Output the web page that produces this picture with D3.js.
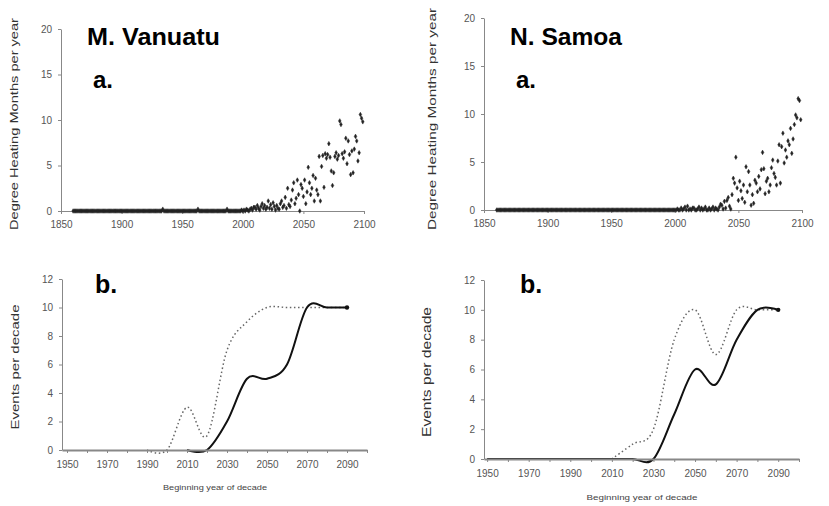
<!DOCTYPE html>
<html>
<head>
<meta charset="utf-8">
<script src="https://cdn.jsdelivr.net/npm/d3@7"></script>
<style>
  body { margin: 0; background: #fff; }
  svg { font-family: "Liberation Sans", Arial, sans-serif; }
  .tick text { fill: #555; font-size: 10px; }
  .tick line, .domain { stroke: #888; }
</style>
</head>
<body>
<div id="app"></div>
<script>
`use strict`;

// --- data ---
const dhmYears = d3.range(1860, 2100);

const vanDHM = [
  0,0,0,0,0,0,0,0,0,0,
  0,0,0,0,0,0,0,0,0,0,
  0,0,0,0,0,0,0,0,0,0,
  0,0,0,0,0,0,0,0,0,0,
  0,0,0,0,0,0,0,0,0,0,
  0,0,0,0,0,0,0,0,0,0,
  0,0,0,0,0,0,0,0,0,0,
  0,0,0,0,0.2,0,0,0,0,0,
  0,0,0,0,0,0,0,0,0,0,
  0,0,0,0,0,0,0,0,0,0,
  0,0,0,0.2,0,0,0,0,0,0,
  0,0,0,0,0,0,0,0,0,0,
  0,0,0,0,0,0,0,0.2,0,0,
  0,0,0,0,0,0,0,0,0,0.1,
  0,0.1,0,0.2,0.1,0,0.2,0.3,0.1,0.4,
  0.4,0.2,0.6,0.3,0.1,0.5,0.8,0.3,0.6,0.2,
  0.4,1.1,0.3,0.7,0.2,0.9,0.5,0.1,0.6,0.3,
  0.2,0.8,1.1,0.4,0.6,1.5,0.3,2.5,0.7,0.5,
  1.2,2.3,3.1,0.8,1.4,3.4,1.8,0,2.9,2.5,
  1.6,3.4,0.8,2.1,4.8,3.1,1.8,2.5,3.9,1.1,
  3.6,2.3,1.8,6.0,1.1,4.9,6.1,2.6,6.3,5.8,
  6.2,7.4,5.9,4.4,2.8,4.2,6.0,6.4,5.7,6.1,
  9.9,9.5,6.3,5.8,6.5,8.0,5.2,7.7,6.2,4.0,
  6.6,4.2,6.8,8.2,7.7,5.5,6.4,10.6,10.2,9.8
];

const samDHM = [
  0,0,0,0,0,0,0,0,0,0,
  0,0,0,0,0,0,0,0,0,0,
  0,0,0,0,0,0,0,0,0,0,
  0,0,0,0,0,0,0,0,0,0,
  0,0,0,0,0,0,0,0,0,0,
  0,0,0,0,0,0,0,0,0,0,
  0,0,0,0,0,0,0,0,0,0,
  0,0,0,0,0,0,0,0,0,0,
  0,0,0,0,0,0,0,0,0,0,
  0,0,0,0,0,0,0,0,0,0,
  0,0,0,0,0,0,0,0,0,0,
  0,0,0,0,0,0,0,0,0,0,
  0,0,0,0,0,0,0,0,0,0,
  0,0,0,0,0,0,0,0,0,0,
  0,0,0.1,0,0,0.2,0,0.1,0.3,0,
  0.4,0,0.1,0,0.2,0.2,0,0,0.1,0.3,
  0,0.2,0,0.1,0.3,0,0,0.2,0,0.1,
  0.3,0,0.2,0.1,0,0.3,0.6,0.5,0.1,0.9,
  0.2,1.0,1.3,0.4,0.1,1.6,3.3,2.8,5.5,2.3,
  1.0,3.0,2.0,1.2,2.6,0.8,4.5,1.9,4.0,2.6,
  0.5,1.6,0.7,3.1,2.8,1.9,3.5,2.2,4.2,6.0,
  4.3,1.7,3.0,3.3,1.9,2.6,4.4,5.2,3.8,3.4,
  2.6,5.1,6.8,2.8,6.6,8.0,4.9,6.25,5.5,7.2,
  6.8,8.5,5.9,7.4,8.9,9.9,9.6,11.6,11.4,9.4
];

const decades = [1950,1960,1970,1980,1990,2000,2010,2020,2030,2040,2050,2060,2070,2080,2090];
const vanSolid  = [null,null,null,null,null,null,0,0,2,5,5,6,10,10,10];
const vanDotted = [null,null,null,null,0,0,3,1,7,9,10,10,10,10,10];
const samSolid  = [0,0,0,0,0,0,0,0,0,3,6,5,8,10,10];
const samDotted = [null,null,null,null,null,null,0,1,2,8,10,7,10,10,10];

const dhmTicksX = [1850,1900,1950,2000,2050,2100];
const dhmTicksY = [0,5,10,15,20];
const evTicksX = d3.range(1950, 2101, 10);
const evLabelsX = [1950,1970,1990,2010,2030,2050,2070,2090];
const evTicksY = [0,2,4,6,8,10,12];

// --- drawing ---
const svg = d3.select(`#app`).append(`svg`).attr(`width`, 829).attr(`height`, 506);

function dhmPanel (Arg) {
  let x = d3.scaleLinear().domain([1850, 2100]).range(Arg.xr),
  y = d3.scaleLinear().domain([0, 20]).range(Arg.yr);

  let g = svg.append(`g`);

  g.append(`g`).attr(`transform`, `translate(0,${Arg.yr[0]})`)
    .call(d3.axisBottom(x).tickValues(dhmTicksX).tickFormat(d3.format(`d`)).tickSize(3).tickSizeOuter(0))
    .selectAll(`text`).attr(`dy`, `1.05em`);

  g.append(`g`).attr(`transform`, `translate(${Arg.xr[0]},0)`)
    .call(d3.axisLeft(y).tickValues(dhmTicksY).tickSize(3).tickSizeOuter(0))
    .selectAll(`text`).attr(`dx`, `-0.3em`);

  g.append(`g`).selectAll(`path`).data(Arg.vals).enter().append(`path`)
    .attr(`transform`, (d, i) => `translate(${x(dhmYears[i])},${y(d)})`)
    .attr(`d`, d3.symbol(d3.symbolDiamond, 6))
    .attr(`fill`, `#222`).attr(`stroke`, `#222`).attr(`stroke-width`, 0.5);

  svg.append(`text`).attr(`x`, Arg.title[1]).attr(`y`, 45).attr(`font-size`, `24px`).attr(`font-weight`, `bold`)
    .attr(`textLength`, Arg.title[2]).attr(`lengthAdjust`, `spacingAndGlyphs`).text(Arg.title[0]);
  svg.append(`text`).attr(`x`, Arg.title[1] + 6).attr(`y`, 88).attr(`font-size`, `24px`).attr(`font-weight`, `bold`).text(`a.`);

  svg.append(`text`).attr(`transform`, `translate(${Arg.lab[0]},${Arg.lab[1]}) rotate(-90)`)
    .attr(`text-anchor`, `middle`).attr(`font-size`, `11px`).attr(`fill`, `#333`)
    .attr(`textLength`, Arg.lab[2]).attr(`lengthAdjust`, `spacingAndGlyphs`)
    .text(`Degree Heating Months per year`);
}

function evPanel (Arg) {
  let x = d3.scaleLinear().domain(Arg.xd).range(Arg.xr),
  y = d3.scaleLinear().domain([0, 12]).range(Arg.yr);

  let g = svg.append(`g`);

  g.append(`g`).attr(`transform`, `translate(${Arg.xr[0]},0)`)
    .call(d3.axisLeft(y).tickValues(evTicksY).tickSize(3).tickSizeOuter(0))
    .selectAll(`text`).attr(`dx`, `-0.3em`);

  let line = d3.line().defined((d, i) => d !== null).x((d, i) => x(decades[i])).y(d => y(d)).curve(d3.curveCardinal.tension(0));

  g.append(`path`).attr(`d`, line(Arg.dotted)).attr(`fill`, `none`)
    .attr(`stroke`, `#666`).attr(`stroke-width`, 1.5).attr(`stroke-dasharray`, `1.5,2.6`);

  g.append(`path`).attr(`d`, line(Arg.solid)).attr(`fill`, `none`)
    .attr(`stroke`, `#111`).attr(`stroke-width`, 2);

  g.append(`circle`).attr(`cx`, x(decades[14])).attr(`cy`, y(Arg.solid[14])).attr(`r`, 2.2).attr(`fill`, `#111`);

  let ax = g.append(`g`).attr(`transform`, `translate(0,${Arg.yr[0]})`)
    .call(d3.axisBottom(x).tickValues(evTicksX).tickFormat(d => evLabelsX.includes(d) ? d : ``).tickSize(3).tickSizeOuter(0));
  ax.select(`.domain`).attr(`stroke`, `#333`).attr(`stroke-width`, 1.8);
  ax.selectAll(`.tick line`).attr(`stroke`, `#444`);
  ax.selectAll(`text`).attr(`dy`, `1.2em`);

  svg.append(`text`).attr(`x`, Arg.b[0]).attr(`y`, 293).attr(`font-size`, `25px`).attr(`font-weight`, `bold`).text(`b.`);

  svg.append(`text`).attr(`transform`, `translate(${Arg.lab[0]},${Arg.lab[1]}) rotate(-90)`)
    .attr(`text-anchor`, `middle`).attr(`font-size`, Arg.lab[3]).attr(`fill`, `#333`)
    .attr(`textLength`, Arg.lab[2]).attr(`lengthAdjust`, `spacingAndGlyphs`)
    .text(`Events per decade`);

  svg.append(`text`).attr(`x`, Arg.xl[0]).attr(`y`, Arg.xl[1]).attr(`text-anchor`, `middle`)
    .attr(`font-size`, `7px`).attr(`fill`, `#444`).attr(`textLength`, Arg.xl[2]).attr(`lengthAdjust`, `spacingAndGlyphs`)
    .text(`Beginning year of decade`);
}

dhmPanel({xr: [61, 364], yr: [211, 29], vals: vanDHM, title: [`M. Vanuatu`, 87, 133], lab: [18, 124, 212]});
dhmPanel({xr: [484, 802], yr: [210, 18], vals: samDHM, title: [`N. Samoa`, 510, 112], lab: [436, 119, 222]});

evPanel({xd: [1947.5, 2100], xr: [62, 367], yr: [450, 279], solid: vanSolid, dotted: vanDotted, b: [95], lab: [19, 367, 125, `11px`], xl: [215, 490, 104]});
evPanel({xd: [1948.5, 2100], xr: [484, 799], yr: [459, 280], solid: samSolid, dotted: samDotted, b: [520], lab: [431, 372, 130, `13px`], xl: [642, 500, 111]});
</script>
</body>
</html>
